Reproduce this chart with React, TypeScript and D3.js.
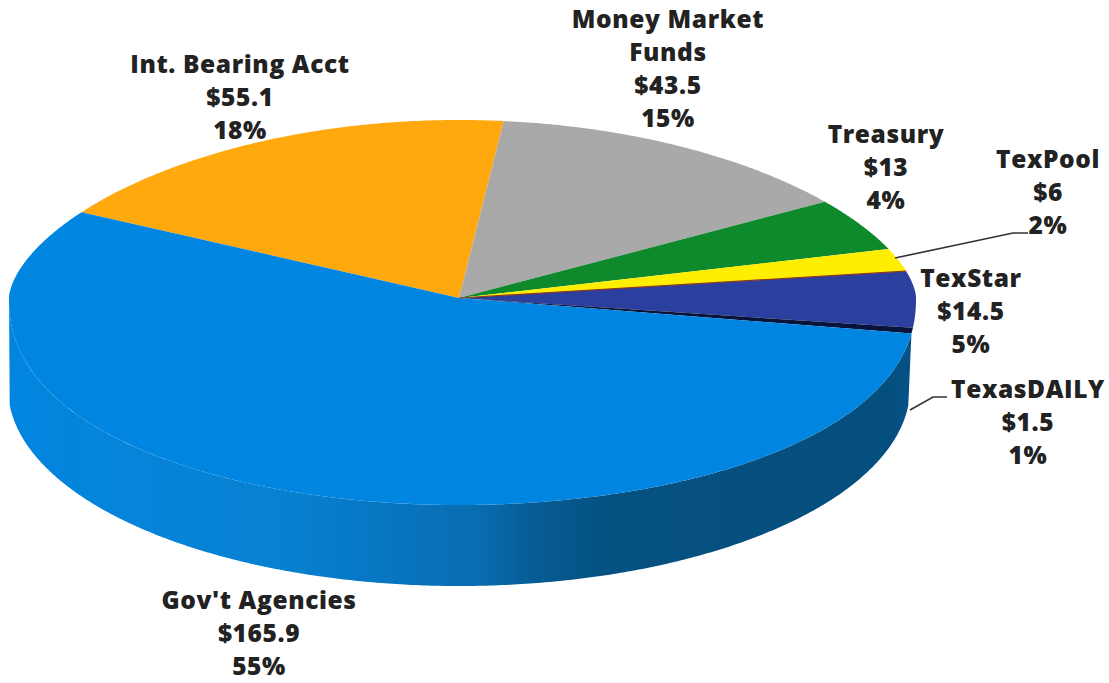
import React from "react";
import * as d3 from "d3";

const names = ["Int. Bearing Acct", "Money Market Funds", "Treasury", "TexPool", "TexStar", "TexasDAILY", "Gov't Agencies"];
const values = [55.1, 43.5, 13, 6, 14.5, 1.5, 165.9];
const valueLabels = ["$55.1", "$43.5", "$13", "$6", "$14.5", "$1.5", "$165.9"];
const percentLabels = ["18%", "15%", "4%", "2%", "5%", "1%", "55%"];
const colors = ["#ffa90f", "#a9a9a9", "#0e8a2c", "#ffee00", "#2b3f9e", "#07133a", "#0085e0"];

// label blocks: wrapped title lines, then value, then percent
const labelLines = [["Int. Bearing Acct"], ["Money Market", "Funds"], ["Treasury"], ["TexPool"], ["TexStar"], ["TexasDAILY"], ["Gov't Agencies"]];
const labelX = [240, 668, 886, 1048, 971, 1028, 259];
const labelFirstBaseline = [73, 28, 143, 168, 287, 398, 609];
const rowStep = 33;

const width = 1109;
const height = 683;
const cx = 459;
const cy = 298;
const rxRight = 457;
const rxLeft = 450;
const ryBack = 178;
const ryFront = 207;
const baseCy = 388;
const baseRx = 451;
const baseRy = 198;
const toRad = Math.PI / 180;

// the photo is in perspective, so pie angles don't land on plain ellipse angles
const perspective = d3
    .scaleLinear()
    .domain([-60, 6.2, 58.5, 74.1, 81.3, 98.7, 100.5, 300].map((a) => a * toRad))
    .range([-57, 5.6, 53.2, 70, 78, 96.6, 98, 303].map((a) => a * toRad));

// top face: back half flatter, front half fuller
const topPoint = (t: number): [number, number] => {
    const s = Math.sin(t);
    const c = Math.cos(t);
    const y =
        c > 0
            ? cy - ryBack * Math.pow(c, 1.2)
            : cy + ryFront * Math.pow(-c, 0.9);
    return [cx + (s > 0 ? rxRight : rxLeft) * s, y];
};
const basePoint = (t: number): [number, number] => [
    cx + baseRx * Math.sin(t),
    baseCy - baseRy * Math.cos(t),
];
const sweep = (a: number, b: number, fn: (t: number) => [number, number]) => {
    const n = Math.max(2, Math.ceil(Math.abs(b - a) / (0.5 * toRad)));
    return d3.range(n + 1).map((i) => fn(a + ((b - a) * i) / n));
};

const line = d3.line();
const pie = d3
    .pie<number>()
    .sort(null)
    .startAngle(-60 * toRad)
    .endAngle(300 * toRad);
const arcs = pie(values);

const leaderTexPool: [number, number][] = [[895, 258], [1013, 233], [1028, 233]];
const leaderDaily: [number, number][] = [[910, 410], [933, 397], [947, 397]];

const App: React.FC = () => {
    const gov = arcs[6];
    const sidePath =
        line([
            ...sweep(perspective(gov.startAngle), 270 * toRad, topPoint),
            ...sweep(265 * toRad, 95 * toRad, basePoint),
        ]) + "Z";

    return (
        <svg
            width={width}
            height={height}
            style={{ position: "absolute", left: 0, top: 0, background: "#fff" }}
        >
            <defs>
                <linearGradient id="sideFill" gradientUnits="userSpaceOnUse" x1={0} x2={width} y1={0} y2={0}>
                    <stop offset="0" stopColor="#0085df" />
                    <stop offset="0.12" stopColor="#0684da" />
                    <stop offset="0.27" stopColor="#0780cf" />
                    <stop offset="0.36" stopColor="#0774bf" />
                    <stop offset="0.43" stopColor="#096db0" />
                    <stop offset="0.48" stopColor="#065c94" />
                    <stop offset="0.55" stopColor="#055181" />
                    <stop offset="0.8" stopColor="#054f7e" />
                    <stop offset="0.83" stopColor="#06528c" />
                </linearGradient>
            </defs>

            <path d={sidePath} fill="url(#sideFill)" />

            {arcs.map((d, i) => (
                <path
                    key={names[i]}
                    d={
                        line([
                            [cx, cy],
                            ...sweep(perspective(d.startAngle), perspective(d.endAngle), topPoint),
                        ]) + "Z"
                    }
                    fill={colors[i]}
                />
            ))}

            {/* thin dark edge under the yellow slice */}
            <path
                d={line([[cx, cy], topPoint(perspective(arcs[3].endAngle))]) ?? ""}
                stroke="#8a3a20"
                strokeWidth={1.2}
                fill="none"
            />

            {/* leader lines */}
            <path d={line(leaderTexPool) ?? ""} stroke="#333" strokeWidth={1.6} fill="none" />
            <path d={line(leaderDaily) ?? ""} stroke="#333" strokeWidth={1.6} fill="none" />

            {names.map((name, i) => {
                const rows = [...labelLines[i], valueLabels[i], percentLabels[i]];
                return (
                    <text
                        key={name}
                        textAnchor="middle"
                        fontFamily="'Open Sans', sans-serif"
                        fontWeight={800}
                        fontSize={24.5}
                        letterSpacing={0.6}
                        fill="#222"
                    >
                        {rows.map((row, j) => (
                            <tspan key={j} x={labelX[i]} y={labelFirstBaseline[i] + j * rowStep}>
                                {row}
                            </tspan>
                        ))}
                    </text>
                );
            })}
        </svg>
    );
};

export default App;
